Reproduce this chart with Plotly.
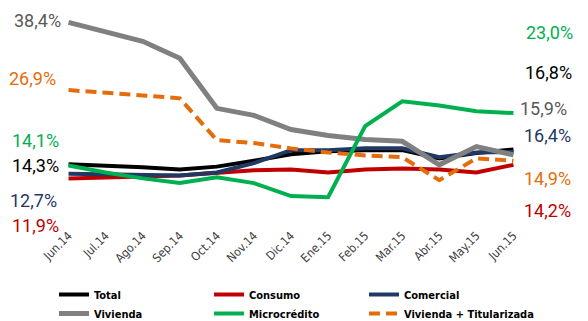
import plotly.graph_objects as go

months = ["Jun.14", "Jul.14", "Ago.14", "Sep.14", "Oct.14", "Nov.14", "Dic.14",
          "Ene.15", "Feb.15", "Mar.15", "Abr.15", "May.15", "Jun.15"]

total = [14.3, 14.1, 13.8, 13.4, 13.9, 14.9, 16.0, 16.5, 16.7, 16.7, 15.3, 16.2, 16.8]
consumo = [11.9, 12.0, 12.2, 12.4, 12.8, 13.3, 13.4, 12.9, 13.4, 13.6, 13.4, 12.9, 14.2]
comercial = [12.7, 12.6, 12.5, 12.4, 12.9, 14.5, 16.7, 16.7, 17.0, 17.0, 15.5, 16.3, 16.4]
vivienda = [38.4, 36.7, 35.2, 32.3, 23.8, 22.6, 20.2, 19.2, 18.5, 18.2, 14.2, 17.3, 15.9]
microcredito = [14.1, 12.9, 11.9, 11.1, 12.1, 11.1, 8.9, 8.7, 20.8, 25.0, 24.3, 23.3, 23.0]
viv_tit = [26.9, 26.5, 26.0, 25.5, 18.4, 17.9, 17.0, 16.3, 15.8, 15.5, 11.6, 15.3, 14.9]

names = ["Total", "Consumo", "Comercial", "Vivienda", "Microcrédito", "Vivienda + Titularizada"]
series = [total, consumo, comercial, vivienda, microcredito, viv_tit]
colors = ["#000000", "#C00000", "#1F3864", "#808080", "#00B050", "#E46C0A"]
dashes = ["solid", "solid", "solid", "solid", "solid", "11px,6px"]
widths = [4, 4, 4, 5, 4, 4]
# legend column of each series (three columns, two rows)
legend_ids = ["legend", "legend2", "legend3", "legend", "legend2", "legend3"]

W, H = 588, 321
L, R, T, B = 50, 56, 13, 102
PW, PH = W - L - R, H - T - B

fig = go.Figure()
for name, ys, c, d, w, lg in zip(names, series, colors, dashes, widths, legend_ids):
    fig.add_trace(go.Scatter(x=list(range(len(months))), y=ys, name=name, mode="lines",
                             line=dict(color=c, width=w, dash=d), legend=lg))


def px_to_paper(px, py):
    return (px - L) / PW, 1 - (py - T) / PH


def fmt(v):
    return f"{v:.1f}".replace(".", ",") + "%"


label_font = "Roboto, sans-serif"
narrow_font = "DejaVu Sans Condensed, Roboto, sans-serif"
# start-of-period labels on the left, end-of-period labels on the right
left_pos = {"Vivienda": (37, 21), "Vivienda + Titularizada": (32, 78), "Microcrédito": (35, 140),
            "Total": (35, 165), "Comercial": (33, 200), "Consumo": (35, 225)}
right_pos = {"Microcrédito": (549, 33), "Total": (548, 72), "Vivienda": (543, 108),
             "Comercial": (547, 135), "Vivienda + Titularizada": (547, 178), "Consumo": (547, 210)}
label_colors = dict(zip(names, ["#000000", "#C00000", "#1F3864", "#595959", "#00B050", "#E46C0A"]))
for name, ys in zip(names, series):
    for pos, v in ((left_pos[name], ys[0]), (right_pos[name], ys[-1])):
        x, y = px_to_paper(*pos)
        fig.add_annotation(x=x, y=y, xref="paper", yref="paper", text=fmt(v), showarrow=False,
                           xanchor="center", yanchor="middle",
                           font=dict(family=label_font, size=18, color=label_colors[name]))


def legend_at(px):
    return dict(orientation="v", x=(px - L) / PW, y=1 - 280 / H, xref="paper", yref="container",
                xanchor="left", yanchor="top", itemwidth=30, tracegroupgap=0,
                font=dict(family=narrow_font, size=11, color="#000000", weight="bold"),
                bgcolor="rgba(0,0,0,0)")


fig.update_layout(
    width=W, height=H, margin=dict(l=L, r=R, t=T, b=B),
    paper_bgcolor="white", plot_bgcolor="white",
    xaxis=dict(range=[-0.5, 12.5], tickmode="array", tickvals=list(range(len(months))),
               ticktext=months, tickangle=-45, showgrid=False, zeroline=False, showline=False,
               automargin=False, ticklen=4, tickcolor="rgba(0,0,0,0)", ticks="outside",
               tickfont=dict(family=narrow_font, size=12, color="#404040")),
    yaxis=dict(range=[5, 40], visible=False),
    showlegend=True,
    legend=legend_at(54),
    legend2=legend_at(209),
    legend3=legend_at(364),
)

fig.write_html("out.html")
